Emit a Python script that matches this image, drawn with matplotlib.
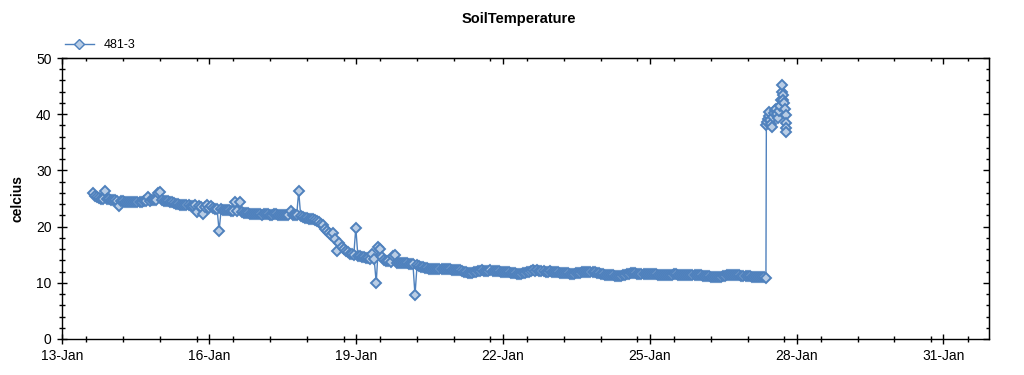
import numpy as np
import matplotlib
matplotlib.use("Agg")
import matplotlib.pyplot as plt
from matplotlib.ticker import FixedLocator, MultipleLocator

plt.rcParams['font.family'] = ['Liberation Sans', 'DejaVu Sans']

# ---------------- data ----------------
title = "SoilTemperature"
series_name = "481-3"
y_label = "celcius"

# hourly readings, first at 13-Jan 15:00 (time in day-of-January units)
start_day = 13 + 15 / 24.0
temp_13 = [26.0, 25.4, 25.2, 25.1, 25.0, 25.0, 26.3, 24.9, 24.9]
temp_14 = [24.8, 24.8, 24.7, 24.6, 23.6, 24.5, 24.5, 24.4, 24.4, 24.4, 24.3, 24.3,
           24.4, 24.3, 24.4, 24.4, 24.5, 24.5, 25.2, 24.6, 24.7, 24.7, 24.7, 26.0]
temp_15 = [26.2, 24.7, 24.6, 24.6, 24.5, 24.4, 24.3, 24.2, 24.1, 24.0, 23.9, 23.9,
           23.8, 23.8, 23.8, 23.7, 23.7, 23.9, 22.6, 23.6, 23.5, 22.2, 23.4, 23.8]
temp_16 = [23.3, 23.6, 23.3, 23.2, 23.2, 19.2, 23.1, 23.0, 23.0, 22.9, 22.9, 22.8,
           22.8, 24.3, 22.7, 24.4, 22.6, 22.5, 22.5, 22.4, 22.3, 22.3, 22.3, 22.2]
temp_17 = [22.2, 22.2, 22.1, 22.2, 22.2, 22.2, 22.1, 22.1, 22.2, 22.2, 22.1, 22.1,
           22.1, 22.1, 22.1, 22.1, 22.8, 22.0, 22.0, 22.0, 26.3, 21.8, 21.7, 21.6]
temp_18 = [21.5, 21.4, 21.3, 21.3, 21.2, 21.0, 20.9, 20.5, 20.2, 19.6, 19.3, 18.8,
           18.5, 18.8, 17.8, 15.6, 17.0, 16.3, 16.0, 15.6, 15.4, 15.2, 15.1, 15.0]
temp_19 = [19.8, 14.8, 14.7, 14.6, 14.6, 14.5, 14.4, 14.3, 15.2, 14.2, 10.0, 16.3,
           16.1, 14.6, 14.0, 13.9, 13.8, 13.7, 14.8, 14.9, 13.6, 13.6, 13.5, 13.5]
temp_20 = [13.5, 13.5, 13.4, 13.3, 13.3, 7.8, 13.1, 13.0, 12.9, 12.8, 12.7, 12.6,
           12.5, 12.5, 12.4, 12.4, 12.4, 12.5, 12.5, 12.4, 12.4, 12.4, 12.4, 12.3]
temp_21 = [12.3, 12.3, 12.2, 12.2, 12.1, 12.0, 11.9, 11.8, 11.8, 11.8, 11.9, 12.0,
           12.1, 12.1, 12.2, 12.1, 12.1, 12.1, 12.2, 12.1, 12.1, 12.1, 12.1, 12.0]
temp_22 = [12.0, 12.0, 11.9, 11.9, 11.8, 11.8, 11.7, 11.6, 11.6, 11.6, 11.7, 11.8,
           11.9, 12.0, 12.1, 12.2, 12.1, 12.2, 12.1, 12.1, 12.1, 12.0, 12.0, 12.1]
temp_23 = [12.0, 12.0, 11.9, 11.9, 11.8, 11.8, 11.7, 11.7, 11.7, 11.6, 11.6, 11.6,
           11.7, 11.7, 11.8, 11.9, 11.9, 11.9, 11.9, 11.9, 11.9, 11.9, 11.8, 11.8]
temp_24 = [11.6, 11.5, 11.4, 11.4, 11.4, 11.3, 11.3, 11.2, 11.2, 11.2, 11.2, 11.3,
           11.4, 11.5, 11.6, 11.7, 11.7, 11.7, 11.6, 11.6, 11.6, 11.6, 11.5, 11.5]
temp_25 = [11.5, 11.5, 11.5, 11.5, 11.4, 11.4, 11.4, 11.4, 11.3, 11.3, 11.4, 11.4,
           11.5, 11.5, 11.4, 11.4, 11.4, 11.3, 11.3, 11.3, 11.3, 11.3, 11.3, 11.3]
temp_26 = [11.3, 11.3, 11.2, 11.2, 11.2, 11.2, 11.1, 11.1, 11.1, 11.0, 11.1, 11.1,
           11.2, 11.2, 11.3, 11.3, 11.3, 11.3, 11.3, 11.3, 11.3, 11.2, 11.2, 11.2]
temp_27 = [11.2, 11.2, 11.1, 11.1, 11.1, 11.1, 11.1, 11.0, 11.0, 10.8]

# readings after the jump on 27-Jan (hours after 27-Jan 09:00)
jump_hours = [0.2, 0.6, 0.9, 1.3, 1.7, 2.1, 2.6, 3.2, 3.6, 4.1, 4.6, 5.1, 5.6, 6.1,
              6.6, 7.1, 7.4, 7.7, 8.0, 8.3, 8.6, 9.0, 9.3, 9.7, 9.85, 9.95, 10.05]
jump_temps = [38.1, 38.7, 39.2, 39.7, 40.4, 39.0, 38.3, 37.8, 39.5, 40.2, 40.8, 41.0,
              40.0, 39.3, 40.6, 41.5, 42.5, 44.0, 45.2, 43.4, 42.5, 42.0, 41.0, 39.9,
              38.4, 37.5, 36.9]

x_major = [13, 16, 19, 22, 25, 28, 31]
x_labels = ["13-Jan", "16-Jan", "19-Jan", "22-Jan", "25-Jan", "28-Jan", "31-Jan"]

# ---------------- build series ----------------
hourly = (temp_13 + temp_14 + temp_15 + temp_16 + temp_17 + temp_18 + temp_19 +
          temp_20 + temp_21 + temp_22 + temp_23 + temp_24 + temp_25 + temp_26 + temp_27)
t_hourly = start_day + np.arange(len(hourly)) / 24.0
t_jump = 27 + 9 / 24.0 + np.array(jump_hours) / 24.0
t_all = np.concatenate([t_hourly, t_jump])
v_all = np.concatenate([np.array(hourly), np.array(jump_temps)])

line_color = '#4f81bd'
face_color = '#b9cde5'

fig = plt.figure(figsize=(10.24, 3.75), dpi=100)
ax = fig.add_axes([62 / 1024, 36 / 375, 927 / 1024, 281 / 375])

ax.plot(t_all, v_all, color=line_color, lw=1.0, marker='D', markersize=4.8,
        markerfacecolor=face_color, markeredgecolor=line_color,
        markeredgewidth=1.4, label=series_name)

ax.set_xlim(13, 31.93)
ax.set_ylim(0, 50)

ax.xaxis.set_major_locator(FixedLocator(x_major))
ax.set_xticklabels(x_labels)
ax.xaxis.set_minor_locator(MultipleLocator(0.75))
ax.yaxis.set_major_locator(MultipleLocator(10))
ax.yaxis.set_minor_locator(MultipleLocator(2))

ax.tick_params(which='major', direction='inout', length=7, width=1,
               labelsize=10, colors='black', pad=4)
ax.tick_params(which='minor', direction='inout', length=4.3, width=1)

for s in ax.spines.values():
    s.set_color('black')
    s.set_linewidth(1)

secx = ax.secondary_xaxis('top')
secx.xaxis.set_major_locator(FixedLocator(x_major))
secx.xaxis.set_minor_locator(MultipleLocator(0.75))
secx.tick_params(which='major', direction='in', length=4, width=1, labeltop=False)
secx.tick_params(which='minor', direction='in', length=2.5, width=1)
secy = ax.secondary_yaxis('right')
secy.yaxis.set_major_locator(MultipleLocator(10))
secy.yaxis.set_minor_locator(MultipleLocator(2))
secy.tick_params(which='major', direction='in', length=4, width=1, labelright=False)
secy.tick_params(which='minor', direction='in', length=2.5, width=1)

fig.text(519 / 1024, 1 - 19 / 375, title, ha='center', va='center',
         fontsize=10.5, fontweight='bold')
fig.text(18 / 1024, 1 - 199 / 375, y_label, ha='center', va='center',
         rotation=90, fontsize=10, fontweight='bold')

leg = fig.legend(loc='center left', bbox_to_anchor=(65 / 1024, 1 - 45 / 375),
                 frameon=False, fontsize=9, handlelength=2.3, borderpad=0,
                 handletextpad=0.8, borderaxespad=0)
for h in leg.legend_handles:
    h.set_markeredgewidth(1.0)

fig.savefig('out.png', dpi=100)
